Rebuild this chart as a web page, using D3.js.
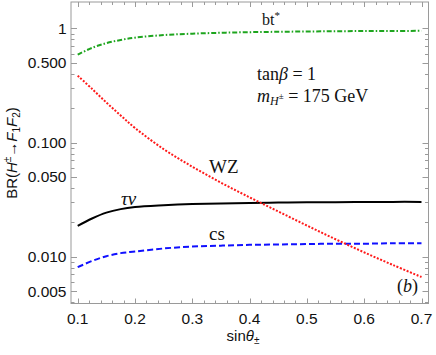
<!DOCTYPE html>
<html><head><meta charset="utf-8">
<script src="https://cdn.jsdelivr.net/npm/d3@7"></script>
<style>body{margin:0;background:#fff}svg{display:block}</style>
</head><body>
<svg id="c" width="436" height="355"></svg>
<script>
// data
const sinTheta = [0.1, 0.125, 0.15, 0.175, 0.2, 0.25, 0.3, 0.35, 0.4, 0.45, 0.5, 0.55, 0.6, 0.65, 0.7];
const brBT  = [0.588, 0.674, 0.741, 0.790, 0.828, 0.872, 0.897, 0.914, 0.925, 0.932, 0.938, 0.943, 0.946, 0.948, 0.950];
const brWZ  = [0.385, 0.295, 0.224, 0.1726, 0.134, 0.0875, 0.0614, 0.0445, 0.0331, 0.0249, 0.01875, 0.01422, 0.01091, 0.00847, 0.00664];
const brTau = [0.0186, 0.0216, 0.0243, 0.0261, 0.0272, 0.0282, 0.0289, 0.0293, 0.0296, 0.0298, 0.0300, 0.0300, 0.0301, 0.0302, 0.0302];
const brCS  = [0.0081, 0.00917, 0.0101, 0.01075, 0.0111, 0.0118, 0.01228, 0.0125, 0.0127, 0.0128, 0.0129, 0.0130, 0.0130, 0.0131, 0.0131];
const xTicks = [0.1, 0.2, 0.3, 0.4, 0.5, 0.6, 0.7];
const yTicks = [0.005, 0.01, 0.05, 0.1, 0.5, 1];
const yTickLabels = ["0.005", "0.010", "0.050", "0.100", "0.500", "1"];

const svg = d3.select("#c");
const fL = 71, fR = 428.5, fT = 2, fB = 303.5;
const x = d3.scaleLinear().domain([0.1, 0.7]).range([77.7, 421.5]);
const y = d3.scaleLog().domain([1, 0.01]).range([28.3, 256.7]);

const frameColor = "#9a9a9a";
svg.append("rect").attr("x", fL).attr("y", fT).attr("width", fR - fL).attr("height", fB - fT)
  .attr("fill", "none").attr("stroke", frameColor).attr("stroke-width", 1);

const xMinorAll = d3.range(0.08, 0.72, 0.02).filter(v => x(v) > fL + 0.5 && x(v) < fR - 0.5);
const gt = svg.append("g").attr("stroke", frameColor).attr("stroke-width", 1);
xMinorAll.forEach(v => {
  const isMaj = xTicks.some(t => Math.abs(t - v) < 1e-6);
  const len = isMaj ? 5 : 3;
  const px = Math.round(x(v)) + 0.5;
  gt.append("line").attr("x1", px).attr("x2", px).attr("y1", fB).attr("y2", fB - len);
  gt.append("line").attr("x1", px).attr("x2", px).attr("y1", fT).attr("y2", fT + len);
});
const yAll = [];
[0.001, 0.01, 0.1, 1].forEach(d => { for (let k = 1; k <= 9; k++) yAll.push(k * d); });
yAll.filter(v => y(v) > fT + 0.5 && y(v) < fB - 0.5).forEach(v => {
  const isMaj = yTicks.some(t => Math.abs(t - v) / t < 1e-6);
  const len = isMaj ? 6 : 3.5;
  const py = Math.round(y(v)) + 0.5;
  gt.append("line").attr("x1", fL).attr("x2", fL + len).attr("y1", py).attr("y2", py);
  gt.append("line").attr("x1", fR).attr("x2", fR - len).attr("y1", py).attr("y2", py);
});

const sans = "'Liberation Sans', Arial, sans-serif";
svg.append("g").selectAll("text").data(xTicks).join("text")
  .attr("x", d => x(d)).attr("y", 323.5).attr("text-anchor", "middle")
  .attr("font-family", sans).attr("font-size", 15.5).attr("fill", "#111")
  .text(d => d.toFixed(1));
svg.append("g").selectAll("text").data(yTicks).join("text")
  .attr("x", 66.5).attr("y", d => y(d) + 5.6).attr("text-anchor", "end")
  .attr("font-family", sans).attr("font-size", 15.5).attr("fill", "#111")
  .text((d, i) => yTickLabels[i]);

const xl = svg.append("text").attr("x", 243).attr("y", 341).attr("text-anchor", "middle")
  .attr("font-family", sans).attr("font-size", 15).attr("fill", "#111");
xl.append("tspan").text("sin");
xl.append("tspan").attr("font-style", "italic").text("θ");
xl.append("tspan").attr("font-size", 10).attr("dy", 3).text("±");

const yl = svg.append("text").attr("transform", "translate(17,153) rotate(-90)")
  .attr("text-anchor", "middle").attr("font-family", sans).attr("font-size", 15).attr("fill", "#111");
yl.append("tspan").text("BR(");
yl.append("tspan").attr("font-style", "italic").text("H");
yl.append("tspan").attr("font-size", 10).attr("dy", -6).text("±");
yl.append("tspan").attr("dy", 6).text("→");
yl.append("tspan").attr("font-style", "italic").text("F");
yl.append("tspan").attr("font-size", 10).attr("dy", 3).text("1");
yl.append("tspan").attr("font-style", "italic").attr("dy", -3).text("F");
yl.append("tspan").attr("font-size", 10).attr("dy", 3).text("2");
yl.append("tspan").attr("dy", -3).text(")");

svg.append("clipPath").attr("id", "cp").append("rect")
  .attr("x", fL).attr("y", fT).attr("width", fR - fL).attr("height", fB - fT);
const line = vals => d3.line().x((d, i) => x(sinTheta[i])).y(d => y(d)).curve(d3.curveCatmullRom.alpha(0.5))(vals);
const series = [
  {v: brTau, color: "#000000", dash: null},
  {v: brCS, color: "#1010ff", dash: "6,3"},
  {v: brBT, color: "#1ea51e", dash: "5,2,1.5,2"},
  {v: brWZ, color: "#ff1a1a", dash: "2,1.6"}
];
const gc = svg.append("g").attr("clip-path", "url(#cp)");
series.forEach(s => {
  gc.append("path").attr("d", line(s.v)).attr("fill", "none").attr("stroke", s.color)
    .attr("stroke-width", 2).attr("stroke-dasharray", s.dash);
});

const serif = "'Liberation Serif', 'Times New Roman', serif";
const bt = svg.append("text").attr("x", 262).attr("y", 25).attr("font-family", serif).attr("font-size", 16).attr("fill", "#111");
bt.append("tspan").text("bt");
bt.append("tspan").attr("font-size", 11).attr("dy", -6).text("*");
svg.append("text").attr("x", 209).attr("y", 172.5).attr("font-family", serif).attr("font-size", 19).attr("fill", "#111").text("WZ");
svg.append("text").attr("x", 121).attr("y", 205).attr("font-family", serif).attr("font-size", 19).attr("font-style", "italic").attr("fill", "#111").text("τν");
svg.append("text").attr("x", 209).attr("y", 240).attr("font-family", serif).attr("font-size", 19).attr("fill", "#111").text("cs");

const t1 = svg.append("text").attr("x", 257).attr("y", 80).attr("font-family", serif).attr("font-size", 18).attr("fill", "#111");
t1.append("tspan").text("tan");
t1.append("tspan").attr("font-style", "italic").text("β");
t1.append("tspan").text(" = 1");
const t2 = svg.append("text").attr("x", 257).attr("y", 101.5).attr("font-family", serif).attr("font-size", 18).attr("fill", "#111");
t2.append("tspan").attr("font-style", "italic").text("m");
t2.append("tspan").attr("font-style", "italic").attr("font-size", 12).attr("dy", 3).text("H");
t2.append("tspan").attr("font-size", 9).attr("dy", -6).text("±");
t2.append("tspan").attr("dy", 3).text(" = 175 GeV");

const pb = svg.append("text").attr("x", 397).attr("y", 291.5).attr("font-family", serif).attr("font-size", 18).attr("fill", "#111");
pb.append("tspan").text("(");
pb.append("tspan").attr("font-style", "italic").text("b");
pb.append("tspan").text(")");
</script>
</body></html>
